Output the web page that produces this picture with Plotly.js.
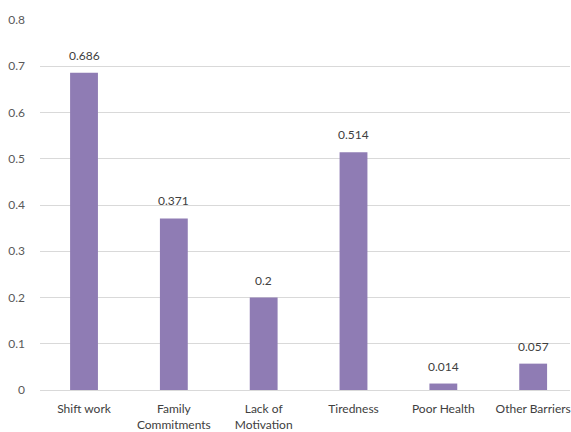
<!DOCTYPE html>
<html>
<head>
<meta charset="utf-8">
<script src="https://cdn.plot.ly/plotly-3.0.1.min.js"></script>
<style>html,body{margin:0;padding:0;background:#fff;}#chart{width:571px;height:432px;}</style>
</head>
<body>
<div id="chart"></div>
<script>
const categories = ["Shift work", "Family<br>Commitments", "Lack of<br>Motivation", "Tiredness", "Poor Health", "Other Barriers"];
const values = [0.686, 0.371, 0.2, 0.514, 0.014, 0.057];
const valueLabels = ["0.686", "0.371", "0.2", "0.514", "0.014", "0.057"];
const yTicks = [0, 0.1, 0.2, 0.3, 0.4, 0.5, 0.6, 0.7, 0.8];
const yTickLabels = ["0", "0.1", "0.2", "0.3", "0.4", "0.5", "0.6", "0.7", "0.8"];

const FONT = "Lato, Open Sans, Liberation Sans, sans-serif";

const trace = {
  type: "bar",
  x: categories,
  y: values,
  marker: {color: "#8F7CB4"},
  width: 0.31,
  hoverinfo: "none"
};

const annotations = categories.map((c, i) => ({
  x: c, y: values[i], xref: "x", yref: "y",
  text: valueLabels[i], showarrow: false,
  yanchor: "bottom", yshift: 8,
  font: {family: FONT, size: 12, color: "#404040"}
}));

const layout = {
  width: 571, height: 432,
  margin: {l: 40, r: 1, t: 20, b: 42},
  paper_bgcolor: "#fff", plot_bgcolor: "#fff",
  showlegend: false,
  font: {family: FONT, size: 12, color: "#595959"},
  annotations: annotations,
  xaxis: {
    range: [-0.49, 5.41],
    showgrid: false, zeroline: false, showline: false, ticks: "",
    ticklabelstandoff: 10,
    tickfont: {family: FONT, size: 12, color: "#404040"}
  },
  yaxis: {
    range: [0, 0.8], tickvals: yTicks, ticktext: yTickLabels,
    showgrid: true, gridcolor: "#D9D9D9", gridwidth: 1,
    zeroline: true, zerolinecolor: "#D9D9D9", zerolinewidth: 1,
    showline: false, ticks: "", ticklabelstandoff: 14,
    tickfont: {family: FONT, size: 12, color: "#595959"}
  }
};

Plotly.newPlot("chart", [trace], layout, {displayModeBar: false, staticPlot: true});
</script>
</body>
</html>
